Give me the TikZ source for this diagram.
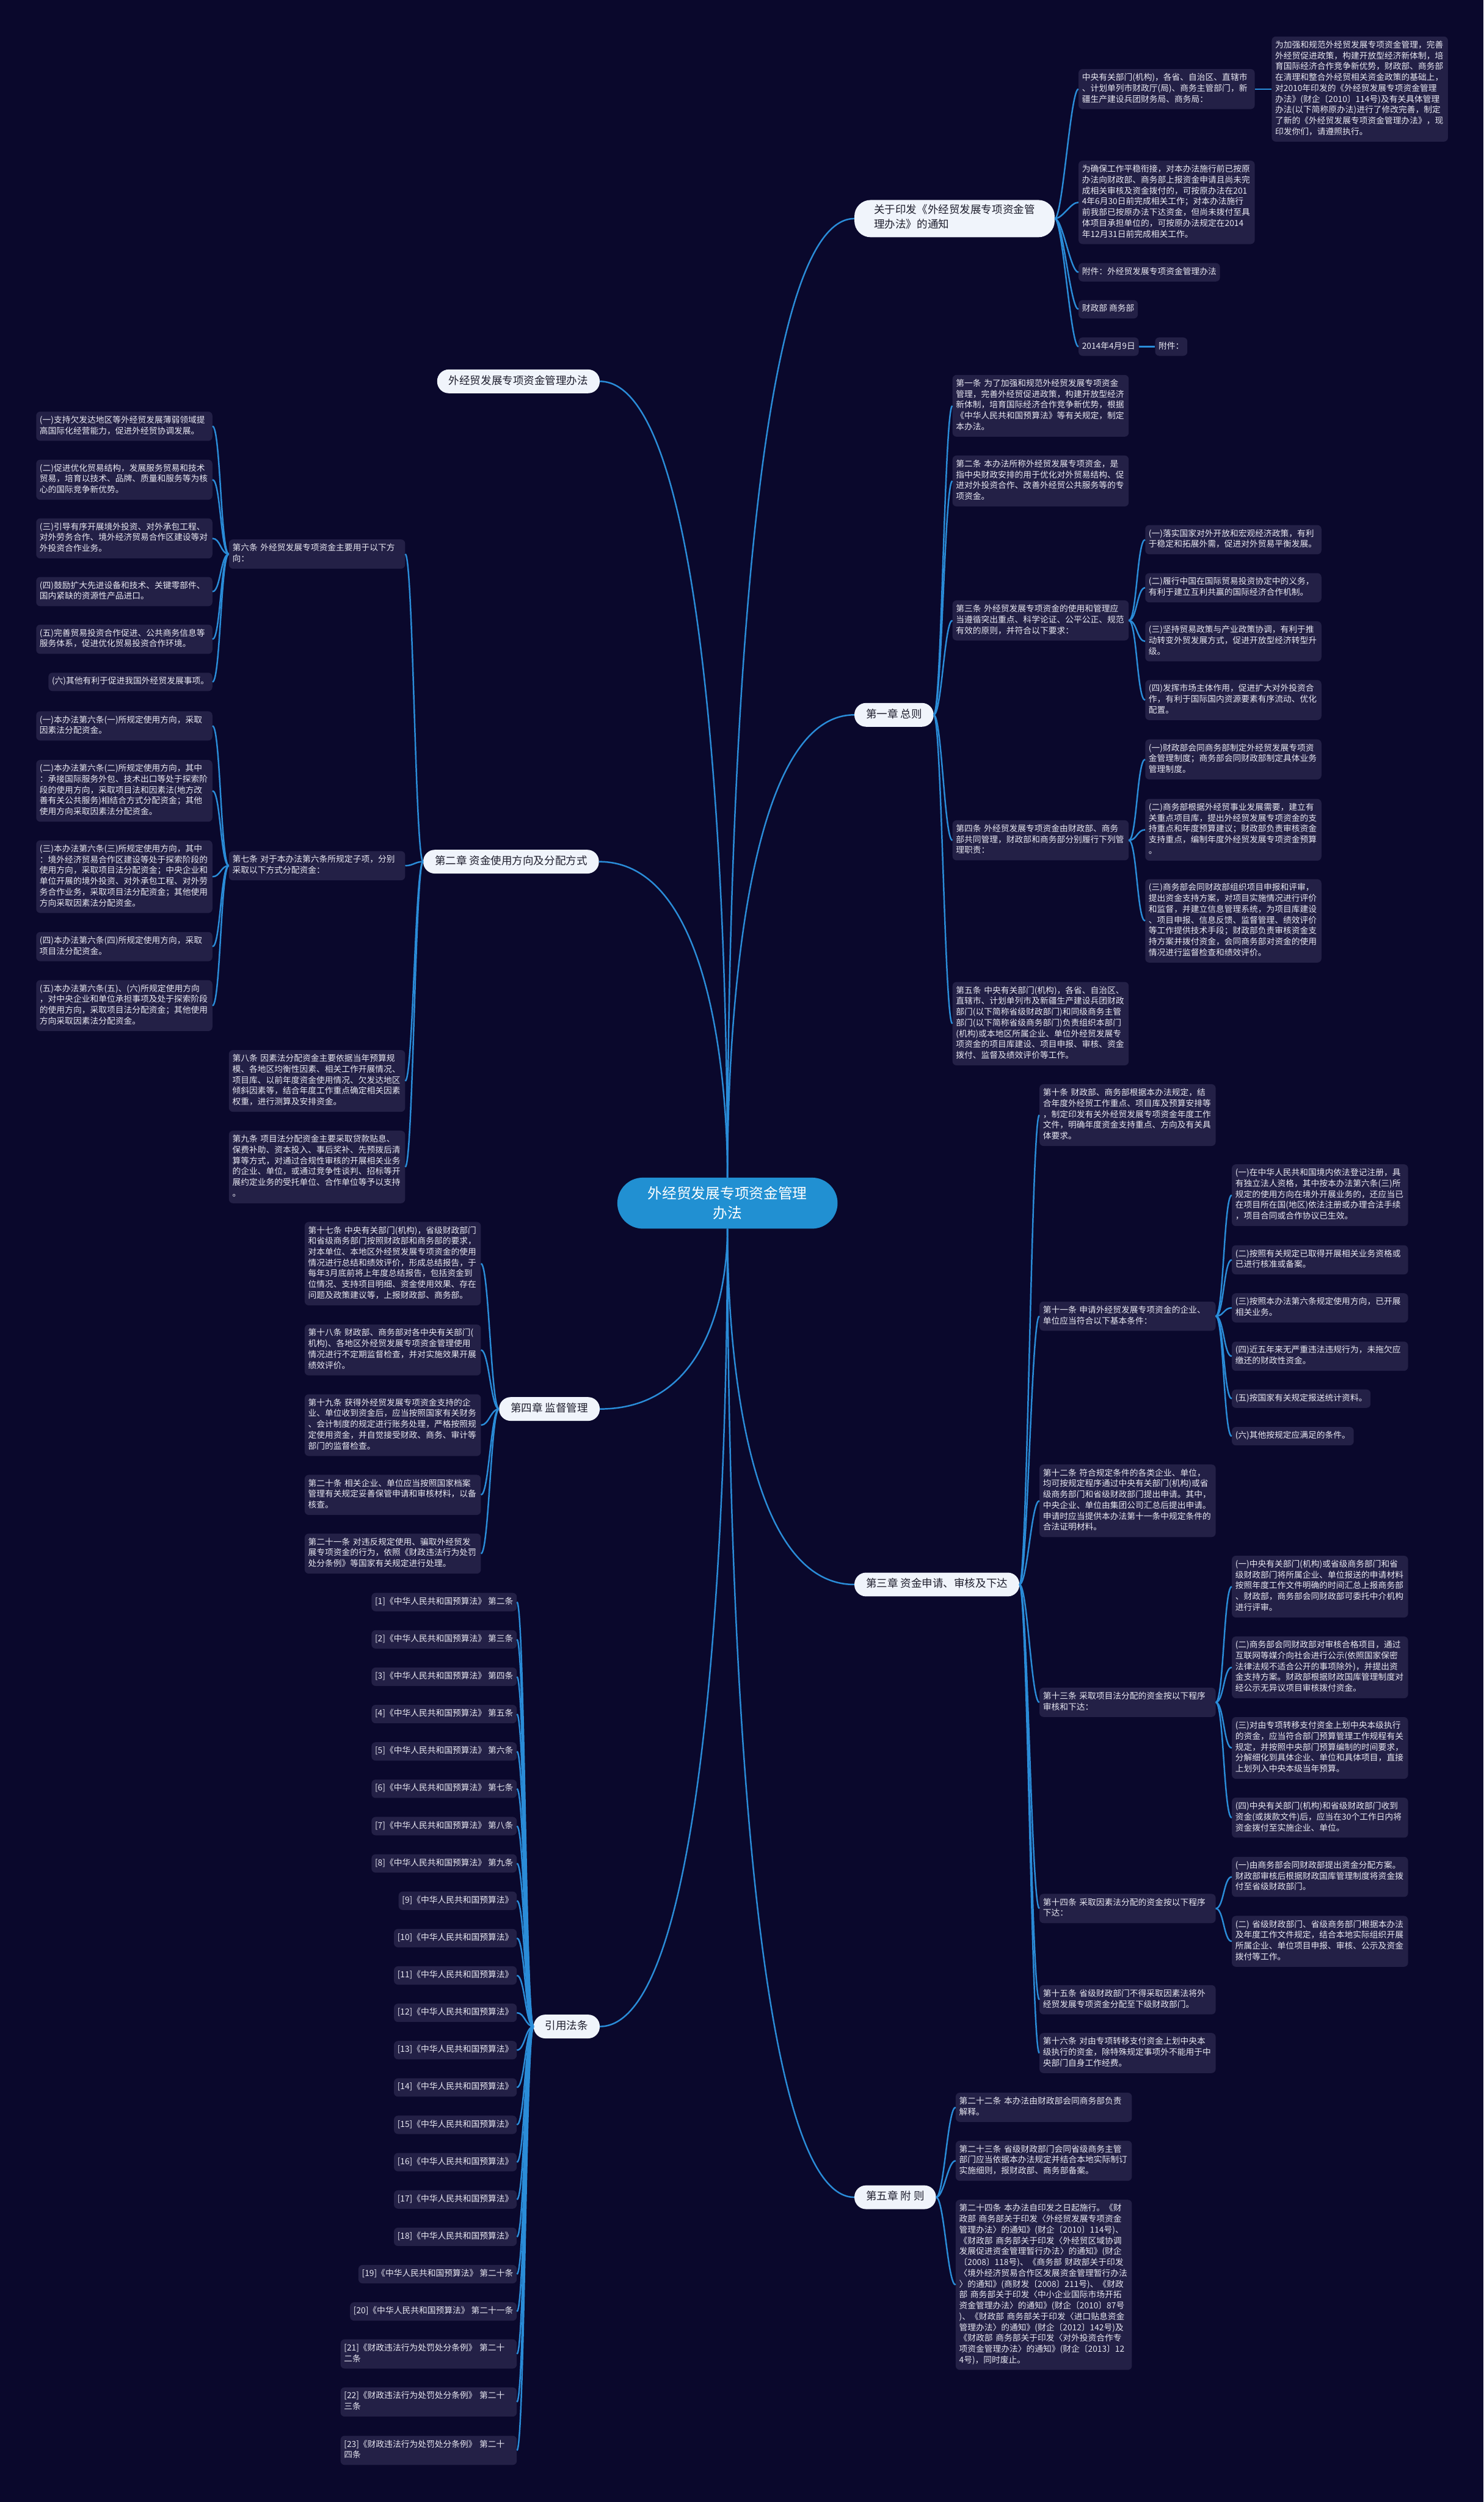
\documentclass[tikz,border=0pt]{standalone}
\usepackage{fontspec}
\usepackage{tikz}
\usetikzlibrary{positioning, calc}
\newfontfamily\cjk{Noto Sans CJK SC}
\definecolor{bgc}{RGB}{10,8,44}
\definecolor{leafbg}{RGB}{35,32,70}
\definecolor{leaftxt}{RGB}{232,232,242}
\definecolor{topicbg}{RGB}{240,244,251}
\definecolor{topictxt}{RGB}{30,30,45}
\definecolor{hubbg}{RGB}{33,144,210}
\definecolor{linkc}{RGB}{42,140,216}

\begin{document}
\begin{tikzpicture}[x=2.7527pt, y=-2.7527pt,
  leaf/.style={fill=leafbg, text=leaftxt, rounded corners=7pt, font=\cjk\fontsize{14.5}{18.7}\selectfont, inner xsep=6pt, inner ysep=6.5pt, align=left, execute at begin node=\strut, execute at end node=\strut},
  wide/.style={text width=292pt},
  topic/.style={fill=topicbg, text=topictxt, rounded corners=20pt, font=\cjk\fontsize{18.5}{25}\selectfont, inner xsep=20pt, inner ysep=8pt, align=center, execute at begin node=\strut},
  hub/.style={fill=hubbg, text=white, rounded corners=44pt, font=\cjk\fontsize{25}{34}\selectfont, minimum width=380pt, minimum height=88pt, align=center},
  link/.style={draw=linkc, line width=2.6pt},
  sr/.style={to path={.. controls ($(\tikztostart)+(5,0)$) and ($(\tikztotarget)+(-5,0)$) .. (\tikztotarget)}},
  sl/.style={to path={.. controls ($(\tikztostart)+(-5,0)$) and ($(\tikztotarget)+(5,0)$) .. (\tikztotarget)}}]

\fill[bgc] (0,0) rectangle (930,1568);
\useasboundingbox (0,0) rectangle (930,1568);

\node[hub] (hub) at (456,754) {外经贸发展专项资金管理\\办法};

\node[topic, anchor=west, align=left, inner xsep=34pt, rounded corners=28pt] (notice) at (535.5,137) {关于印发《外经贸发展专项资金管\\理办法》的通知};
\node[topic, anchor=west] (ch1) at (535.5,448) {第一章 总则};
\node[topic, anchor=west] (ch3) at (535.5,993) {第三章 资金申请、审核及下达};
\node[topic, anchor=west] (ch5) at (535.5,1377) {第五章 附 则};
\node[topic, anchor=east] (wjm) at (376,239) {外经贸发展专项资金管理办法};
\node[topic, anchor=east] (ch2) at (375.5,540) {第二章 资金使用方向及分配方式};
\node[topic, anchor=east] (ch4) at (376,883) {第四章 监督管理};
\node[topic, anchor=east] (cite) at (376,1270) {引用法条};

\node[leaf, wide, anchor=north west] (zy) at (676,43.2) {中央有关部门(机构)，各省、自治区、直辖市\\、计划单列市财政厅(局)、商务主管部门，新\\疆生产建设兵团财务局、商务局：};
\node[leaf, wide, right=29pt of zy] (intro) {为加强和规范外经贸发展专项资金管理，完善\\外经贸促进政策，构建开放型经济新体制，培\\育国际经济合作竞争新优势，财政部、商务部\\在清理和整合外经贸相关资金政策的基础上，\\对2010年印发的《外经贸发展专项资金管理\\办法》(财企〔2010〕114号)及有关具体管理\\办法(以下简称原办法)进行了修改完善，制定\\了新的《外经贸发展专项资金管理办法》，现\\印发你们，请遵照执行。};
\node[leaf, wide, anchor=north west] (qr) at (676,100.6) {为确保工作平稳衔接，对本办法施行前已按原\\办法向财政部、商务部上报资金申请且尚未完\\成相关审核及资金拨付的，可按原办法在201\\4年6月30日前完成相关工作；对本办法施行\\前我部已按原办法下达资金，但尚未拨付至具\\体项目承担单位的，可按原办法规定在2014\\年12月31日前完成相关工作。};
\node[leaf, anchor=north west] (fj) at (676,164.8) {附件：外经贸发展专项资金管理办法};
\node[leaf, anchor=north west] (cz) at (676,188) {财政部 商务部};
\node[leaf, anchor=north west] (date) at (676,211.4) {2014年4月9日};
\node[leaf, right=28pt of date] (fj2) {附件：};

\node[leaf, wide, anchor=north west] (a1) at (597,234.9) {第一条~为了加强和规范外经贸发展专项资金\\管理，完善外经贸促进政策，构建开放型经济\\新体制，培育国际经济合作竞争新优势，根据\\《中华人民共和国预算法》等有关规定，制定\\本办法。};
\node[leaf, wide, anchor=north west] (a2) at (597,285.4) {第二条~本办法所称外经贸发展专项资金，是\\指中央财政安排的用于优化对外贸易结构、促\\进对外投资合作、改善外经贸公共服务等的专\\项资金。};
\node[leaf, wide, anchor=north west] (a3) at (597,376.2) {第三条~外经贸发展专项资金的使用和管理应\\当遵循突出重点、科学论证、公平公正、规范\\有效的原则，并符合以下要求：};
\node[leaf, wide, anchor=north west] (s31) at (717.8,329) {(一)落实国家对外开放和宏观经济政策，有利\\于稳定和拓展外需，促进对外贸易平衡发展。};
\node[leaf, wide, anchor=north west] (s32) at (717.8,359.1) {(二)履行中国在国际贸易投资协定中的义务，\\有利于建立互利共赢的国际经济合作机制。};
\node[leaf, wide, anchor=north west] (s33) at (717.8,389.3) {(三)坚持贸易政策与产业政策协调，有利于推\\动转变外贸发展方式，促进开放型经济转型升\\级。};
\node[leaf, wide, anchor=north west] (s34) at (717.8,426.1) {(四)发挥市场主体作用，促进扩大对外投资合\\作，有利于国际国内资源要素有序流动、优化\\配置。};
\node[leaf, wide, anchor=north west] (a4) at (597,514) {第四条~外经贸发展专项资金由财政部、商务\\部共同管理，财政部和商务部分别履行下列管\\理职责：};
\node[leaf, wide, anchor=north west] (s41) at (717.8,463.3) {(一)财政部会同商务部制定外经贸发展专项资\\金管理制度；商务部会同财政部制定具体业务\\管理制度。};
\node[leaf, wide, anchor=north west] (s42) at (717.8,500.6) {(二)商务部根据外经贸事业发展需要，建立有\\关重点项目库，提出外经贸发展专项资金的支\\持重点和年度预算建议；财政部负责审核资金\\支持重点，编制年度外经贸发展专项资金预算\\。};
\node[leaf, wide, anchor=north west] (s43) at (717.8,550.9) {(三)商务部会同财政部组织项目申报和评审，\\提出资金支持方案，对项目实施情况进行评价\\和监督，并建立信息管理系统，为项目库建设\\、项目申报、信息反馈、监督管理、绩效评价\\等工作提供技术手段；财政部负责审核资金支\\持方案并拨付资金，会同商务部对资金的使用\\情况进行监督检查和绩效评价。};
\node[leaf, wide, anchor=north west] (a5) at (597,615.3) {第五条~中央有关部门(机构)，各省、自治区、\\直辖市、计划单列市及新疆生产建设兵团财政\\部门(以下简称省级财政部门)和同级商务主管\\部门(以下简称省级商务部门)负责组织本部门\\(机构)或本地区所属企业、单位外经贸发展专\\项资金的项目库建设、项目申报、审核、资金\\拨付、监督及绩效评价等工作。};

\node[leaf, wide, anchor=north west] (a10) at (651.5,679.4) {第十条~财政部、商务部根据本办法规定，结\\合年度外经贸工作重点、项目库及预算安排等\\，制定印发有关外经贸发展专项资金年度工作\\文件，明确年度资金支持重点、方向及有关具\\体要求。};
\node[leaf, wide, anchor=north west] (a11) at (651.5,815.6) {第十一条~申请外经贸发展专项资金的企业、\\单位应当符合以下基本条件：};
\node[leaf, wide, anchor=north west] (s111) at (772.1,729.6) {(一)在中华人民共和国境内依法登记注册，具\\有独立法人资格，其中按本办法第六条(三)所\\规定的使用方向在境外开展业务的，还应当已\\在项目所在国(地区)依法注册或办理合法手续\\，项目合同或合作协议已生效。};
\node[leaf, wide, anchor=north west] (s112) at (772.1,780.3) {(二)按照有关规定已取得开展相关业务资格或\\已进行核准或备案。};
\node[leaf, wide, anchor=north west] (s113) at (772.1,810.4) {(三)按照本办法第六条规定使用方向，已开展\\相关业务。};
\node[leaf, wide, anchor=north west] (s114) at (772.1,840.7) {(四)近五年来无严重违法违规行为，未拖欠应\\缴还的财政性资金。};
\node[leaf, anchor=north west] (s115) at (772.1,870.7) {(五)按国家有关规定报送统计资料。};
\node[leaf, anchor=north west] (s116) at (772.1,894.2) {(六)其他按规定应满足的条件。};
\node[leaf, wide, anchor=north west] (a12) at (651.5,917.7) {第十二条~符合规定条件的各类企业、单位，\\均可按规定程序通过中央有关部门(机构)或省\\级商务部门和省级财政部门提出申请。其中，\\中央企业、单位由集团公司汇总后提出申请。\\申请时应当提供本办法第十一条中规定条件的\\合法证明材料。};
\node[leaf, wide, anchor=north west] (a13) at (651.5,1057.6) {第十三条~采取项目法分配的资金按以下程序\\审核和下达：};
\node[leaf, wide, anchor=north west] (s131) at (772.1,974.9) {(一)中央有关部门(机构)或省级商务部门和省\\级财政部门将所属企业、单位报送的申请材料\\按照年度工作文件明确的时间汇总上报商务部\\、财政部，商务部会同财政部可委托中介机构\\进行评审。};
\node[leaf, wide, anchor=north west] (s132) at (772.1,1025.5) {(二)商务部会同财政部对审核合格项目，通过\\互联网等媒介向社会进行公示(依照国家保密\\法律法规不适合公开的事项除外)，并提出资\\金支持方案。财政部根据财政国库管理制度对\\经公示无异议项目审核拨付资金。};
\node[leaf, wide, anchor=north west] (s133) at (772.1,1076) {(三)对由专项转移支付资金上划中央本级执行\\的资金，应当符合部门预算管理工作规程有关\\规定，并按照中央部门预算编制的时间要求，\\分解细化到具体企业、单位和具体项目，直接\\上划列入中央本级当年预算。};
\node[leaf, wide, anchor=north west] (s134) at (772.1,1126.5) {(四)中央有关部门(机构)和省级财政部门收到\\资金(或拨款文件)后，应当在30个工作日内将\\资金拨付至实施企业、单位。};
\node[leaf, wide, anchor=north west] (a14) at (651.5,1186.8) {第十四条~采取因素法分配的资金按以下程序\\下达：};
\node[leaf, wide, anchor=north west] (s141) at (772.1,1163.6) {(一)由商务部会同财政部提出资金分配方案。\\财政部审核后根据财政国库管理制度将资金拨\\付至省级财政部门。};
\node[leaf, wide, anchor=north west] (s142) at (772.1,1200.6) {(二)~省级财政部门、省级商务部门根据本办法\\及年度工作文件规定，结合本地实际组织开展\\所属企业、单位项目申报、审核、公示及资金\\拨付等工作。};
\node[leaf, wide, anchor=north west] (a15) at (651.5,1244) {第十五条~省级财政部门不得采取因素法将外\\经贸发展专项资金分配至下级财政部门。};
\node[leaf, wide, anchor=north west] (a16) at (651.5,1274) {第十六条~对由专项转移支付资金上划中央本\\级执行的资金，除特殊规定事项外不能用于中\\央部门自身工作经费。};

\node[leaf, wide, anchor=north west] (a22) at (599,1311.4) {第二十二条~本办法由财政部会同商务部负责\\解释。};
\node[leaf, wide, anchor=north west] (a23) at (599,1341.5) {第二十三条~省级财政部门会同省级商务主管\\部门应当依据本办法规定并结合本地实际制订\\实施细则，报财政部、商务部备案。};
\node[leaf, wide, anchor=north west] (a24) at (599,1378.5) {第二十四条~本办法自印发之日起施行。《财\\政部~商务部关于印发〈外经贸发展专项资金\\管理办法〉的通知》(财企〔2010〕114号)、\\《财政部~商务部关于印发〈外经贸区域协调\\发展促进资金管理暂行办法〉的通知》(财企\\〔2008〕118号)、《商务部~财政部关于印发\\〈境外经济贸易合作区发展资金管理暂行办法\\〉的通知》(商财发〔2008〕211号)、《财政\\部~商务部关于印发〈中小企业国际市场开拓\\资金管理办法〉的通知》(财企〔2010〕87号\\)、《财政部~商务部关于印发〈进口贴息资金\\管理办法〉的通知》(财企〔2012〕142号)及\\《财政部~商务部关于印发〈对外投资合作专\\项资金管理办法〉的通知》(财企〔2013〕12\\4号)，同时废止。};

\node[leaf, wide, anchor=north east] (a6) at (254,338) {第六条~外经贸发展专项资金主要用于以下方\\向：};
\node[leaf, wide, anchor=north east] (s61) at (133.2,257.9) {(一)支持欠发达地区等外经贸发展薄弱领域提\\高国际化经营能力，促进外经贸协调发展。};
\node[leaf, wide, anchor=north east] (s62) at (133.2,288) {(二)促进优化贸易结构，发展服务贸易和技术\\贸易，培育以技术、品牌、质量和服务等为核\\心的国际竞争新优势。};
\node[leaf, wide, anchor=north east] (s63) at (133.2,324.8) {(三)引导有序开展境外投资、对外承包工程、\\对外劳务合作、境外经济贸易合作区建设等对\\外投资合作业务。};
\node[leaf, wide, anchor=north east] (s64) at (133.2,361.5) {(四)鼓励扩大先进设备和技术、关键零部件、\\国内紧缺的资源性产品进口。};
\node[leaf, wide, anchor=north east] (s65) at (133.2,391.4) {(五)完善贸易投资合作促进、公共商务信息等\\服务体系，促进优化贸易投资合作环境。};
\node[leaf, anchor=north east] (s66) at (133.2,421.5) {(六)其他有利于促进我国外经贸发展事项。};
\node[leaf, wide, anchor=north east] (a7) at (254,533.3) {第七条~对于本办法第六条所规定子项，分别\\采取以下方式分配资金：};
\node[leaf, wide, anchor=north east] (s71) at (133.2,445.7) {(一)本办法第六条(一)所规定使用方向，采取\\因素法分配资金。};
\node[leaf, wide, anchor=north east] (s72) at (133.2,476.2) {(二)本办法第六条(二)所规定使用方向，其中\\：承接国际服务外包、技术出口等处于探索阶\\段的使用方向，采取项目法和因素法(地方改\\善有关公共服务)相结合方式分配资金；其他\\使用方向采取因素法分配资金。};
\node[leaf, wide, anchor=north east] (s73) at (133.2,526.6) {(三)本办法第六条(三)所规定使用方向，其中\\：境外经济贸易合作区建设等处于探索阶段的\\使用方向，采取项目法分配资金；中央企业和\\单位开展的境外投资、对外承包工程、对外劳\\务合作业务，采取项目法分配资金；其他使用\\方向采取因素法分配资金。};
\node[leaf, wide, anchor=north east] (s74) at (133.2,584) {(四)本办法第六条(四)所规定使用方向，采取\\项目法分配资金。};
\node[leaf, wide, anchor=north east] (s75) at (133.2,614.2) {(五)本办法第六条(五)、(六)所规定使用方向\\，对中央企业和单位承担事项及处于探索阶段\\的使用方向，采取项目法分配资金；其他使用\\方向采取因素法分配资金。};
\node[leaf, wide, anchor=north east] (a8) at (254,658) {第八条~因素法分配资金主要依据当年预算规\\模、各地区均衡性因素、相关工作开展情况、\\项目库、以前年度资金使用情况、欠发达地区\\倾斜因素等，结合年度工作重点确定相关因素\\权重，进行测算及安排资金。};
\node[leaf, wide, anchor=north east] (a9) at (254,708.5) {第九条~项目法分配资金主要采取贷款贴息、\\保费补助、资本投入、事后奖补、先预拨后清\\算等方式，对通过合规性审核的开展相关业务\\的企业、单位，或通过竞争性谈判、招标等开\\展约定业务的受托单位、合作单位等予以支持\\。};

\node[leaf, wide, anchor=north east] (a17) at (301.5,765.7) {第十七条~中央有关部门(机构)，省级财政部门\\和省级商务部门按照财政部和商务部的要求，\\对本单位、本地区外经贸发展专项资金的使用\\情况进行总结和绩效评价，形成总结报告，于\\每年3月底前将上年度总结报告，包括资金到\\位情况、支持项目明细、资金使用效果、存在\\问题及政策建议等，上报财政部、商务部。};
\node[leaf, wide, anchor=north east] (a18) at (301.5,830) {第十八条~财政部、商务部对各中央有关部门(\\机构)、各地区外经贸发展专项资金管理使用\\情况进行不定期监督检查，并对实施效果开展\\绩效评价。};
\node[leaf, wide, anchor=north east] (a19) at (301.5,873.7) {第十九条~获得外经贸发展专项资金支持的企\\业、单位收到资金后，应当按照国家有关财务\\、会计制度的规定进行账务处理，严格按照规\\定使用资金，并自觉接受财政、商务、审计等\\部门的监督检查。};
\node[leaf, wide, anchor=north east] (a20) at (301.5,924.2) {第二十条~相关企业、单位应当按照国家档案\\管理有关规定妥善保管申请和审核材料，以备\\核查。};
\node[leaf, wide, anchor=north east] (a21) at (301.5,961) {第二十一条~对违反规定使用、骗取外经贸发\\展专项资金的行为，依照《财政违法行为处罚\\处分条例》等国家有关规定进行处理。};

\node[leaf, anchor=east] (c1) at (324,1004) {[1]《中华人民共和国预算法》 第二条};
\node[leaf, anchor=east] (c2) at (324,1027.4) {[2]《中华人民共和国预算法》 第三条};
\node[leaf, anchor=east] (c3) at (324,1050.8) {[3]《中华人民共和国预算法》 第四条};
\node[leaf, anchor=east] (c4) at (324,1074.2) {[4]《中华人民共和国预算法》 第五条};
\node[leaf, anchor=east] (c5) at (324,1097.6) {[5]《中华人民共和国预算法》 第六条};
\node[leaf, anchor=east] (c6) at (324,1121) {[6]《中华人民共和国预算法》 第七条};
\node[leaf, anchor=east] (c7) at (324,1144.4) {[7]《中华人民共和国预算法》 第八条};
\node[leaf, anchor=east] (c8) at (324,1167.8) {[8]《中华人民共和国预算法》 第九条};
\node[leaf, anchor=east] (c9) at (324,1191.2) {[9]《中华人民共和国预算法》};
\node[leaf, anchor=east] (c10) at (324,1214.6) {[10]《中华人民共和国预算法》};
\node[leaf, anchor=east] (c11) at (324,1238) {[11]《中华人民共和国预算法》};
\node[leaf, anchor=east] (c12) at (324,1261.4) {[12]《中华人民共和国预算法》};
\node[leaf, anchor=east] (c13) at (324,1284.8) {[13]《中华人民共和国预算法》};
\node[leaf, anchor=east] (c14) at (324,1308.2) {[14]《中华人民共和国预算法》};
\node[leaf, anchor=east] (c15) at (324,1331.6) {[15]《中华人民共和国预算法》};
\node[leaf, anchor=east] (c16) at (324,1355) {[16]《中华人民共和国预算法》};
\node[leaf, anchor=east] (c17) at (324,1378.4) {[17]《中华人民共和国预算法》};
\node[leaf, anchor=east] (c18) at (324,1401.8) {[18]《中华人民共和国预算法》};
\node[leaf, anchor=east] (c19) at (324,1425.2) {[19]《中华人民共和国预算法》 第二十条};
\node[leaf, anchor=east] (c20) at (324,1448.6) {[20]《中华人民共和国预算法》 第二十一条};
\node[leaf, wide, anchor=east] (c21) at (324,1475.2) {[21]《财政违法行为处罚处分条例》~第二十\\二条};
\node[leaf, wide, anchor=east] (c22) at (324,1505.3) {[22]《财政违法行为处罚处分条例》~第二十\\三条};
\node[leaf, wide, anchor=east] (c23) at (324,1535.6) {[23]《财政违法行为处罚处分条例》~第二十\\四条};

\draw[link] (hub.north) .. controls ($(hub.north)+(0,-180)$) and ($(notice.west)+(-70,0)$) .. (notice.west);
\draw[link] (hub.north) .. controls ($(hub.north)+(0,-87)$) and ($(ch1.west)+(-70,0)$) .. (ch1.west);
\draw[link] (hub.south) .. controls ($(hub.south)+(0,67)$) and ($(ch3.west)+(-70,0)$) .. (ch3.west);
\draw[link] (hub.south) .. controls ($(hub.south)+(0,182)$) and ($(ch5.west)+(-70,0)$) .. (ch5.west);
\draw[link] (hub.north) .. controls ($(hub.north)+(0,-150)$) and ($(wjm.east)+(70,0)$) .. (wjm.east);
\draw[link] (hub.north) .. controls ($(hub.north)+(0,-60)$) and ($(ch2.east)+(70,0)$) .. (ch2.east);
\draw[link] (hub.south) .. controls ($(hub.south)+(0,34)$) and ($(ch4.east)+(70,0)$) .. (ch4.east);
\draw[link] (hub.south) .. controls ($(hub.south)+(0,150)$) and ($(cite.east)+(70,0)$) .. (cite.east);

\draw[link] (notice.east) to[sr] (zy.west);
\draw[link] (notice.east) to[sr] (qr.west);
\draw[link] (notice.east) to[sr] (fj.west);
\draw[link] (notice.east) to[sr] (cz.west);
\draw[link] (notice.east) to[sr] (date.west);
\draw[link] (zy) -- (intro);
\draw[link] (date) -- (fj2);

\draw[link] (ch1.east) to[sr] (a1.west);
\draw[link] (ch1.east) to[sr] (a2.west);
\draw[link] (ch1.east) to[sr] (a3.west);
\draw[link] (ch1.east) to[sr] (a4.west);
\draw[link] (ch1.east) to[sr] (a5.west);
\draw[link] (a3.east) to[sr] (s31.west);
\draw[link] (a3.east) to[sr] (s32.west);
\draw[link] (a3.east) to[sr] (s33.west);
\draw[link] (a3.east) to[sr] (s34.west);
\draw[link] (a4.east) to[sr] (s41.west);
\draw[link] (a4.east) to[sr] (s42.west);
\draw[link] (a4.east) to[sr] (s43.west);

\draw[link] (ch3.east) to[sr] (a10.west);
\draw[link] (ch3.east) to[sr] (a11.west);
\draw[link] (ch3.east) to[sr] (a12.west);
\draw[link] (ch3.east) to[sr] (a13.west);
\draw[link] (ch3.east) to[sr] (a14.west);
\draw[link] (ch3.east) to[sr] (a15.west);
\draw[link] (ch3.east) to[sr] (a16.west);
\draw[link] (a11.east) to[sr] (s111.west);
\draw[link] (a11.east) to[sr] (s112.west);
\draw[link] (a11.east) to[sr] (s113.west);
\draw[link] (a11.east) to[sr] (s114.west);
\draw[link] (a11.east) to[sr] (s115.west);
\draw[link] (a11.east) to[sr] (s116.west);
\draw[link] (a13.east) to[sr] (s131.west);
\draw[link] (a13.east) to[sr] (s132.west);
\draw[link] (a13.east) to[sr] (s133.west);
\draw[link] (a13.east) to[sr] (s134.west);
\draw[link] (a14.east) to[sr] (s141.west);
\draw[link] (a14.east) to[sr] (s142.west);

\draw[link] (ch5.east) to[sr] (a22.west);
\draw[link] (ch5.east) to[sr] (a23.west);
\draw[link] (ch5.east) to[sr] (a24.west);

\draw[link] (ch2.west) to[sl] (a6.east);
\draw[link] (ch2.west) to[sl] (a7.east);
\draw[link] (ch2.west) to[sl] (a8.east);
\draw[link] (ch2.west) to[sl] (a9.east);
\draw[link] (a6.west) to[sl] (s61.east);
\draw[link] (a6.west) to[sl] (s62.east);
\draw[link] (a6.west) to[sl] (s63.east);
\draw[link] (a6.west) to[sl] (s64.east);
\draw[link] (a6.west) to[sl] (s65.east);
\draw[link] (a6.west) to[sl] (s66.east);
\draw[link] (a7.west) to[sl] (s71.east);
\draw[link] (a7.west) to[sl] (s72.east);
\draw[link] (a7.west) to[sl] (s73.east);
\draw[link] (a7.west) to[sl] (s74.east);
\draw[link] (a7.west) to[sl] (s75.east);

\draw[link] (ch4.west) to[sl] (a17.east);
\draw[link] (ch4.west) to[sl] (a18.east);
\draw[link] (ch4.west) to[sl] (a19.east);
\draw[link] (ch4.west) to[sl] (a20.east);
\draw[link] (ch4.west) to[sl] (a21.east);

\draw[link] (cite.west) to[sl] (c1.east);
\draw[link] (cite.west) to[sl] (c2.east);
\draw[link] (cite.west) to[sl] (c3.east);
\draw[link] (cite.west) to[sl] (c4.east);
\draw[link] (cite.west) to[sl] (c5.east);
\draw[link] (cite.west) to[sl] (c6.east);
\draw[link] (cite.west) to[sl] (c7.east);
\draw[link] (cite.west) to[sl] (c8.east);
\draw[link] (cite.west) to[sl] (c9.east);
\draw[link] (cite.west) to[sl] (c10.east);
\draw[link] (cite.west) to[sl] (c11.east);
\draw[link] (cite.west) to[sl] (c12.east);
\draw[link] (cite.west) to[sl] (c13.east);
\draw[link] (cite.west) to[sl] (c14.east);
\draw[link] (cite.west) to[sl] (c15.east);
\draw[link] (cite.west) to[sl] (c16.east);
\draw[link] (cite.west) to[sl] (c17.east);
\draw[link] (cite.west) to[sl] (c18.east);
\draw[link] (cite.west) to[sl] (c19.east);
\draw[link] (cite.west) to[sl] (c20.east);
\draw[link] (cite.west) to[sl] (c21.east);
\draw[link] (cite.west) to[sl] (c22.east);
\draw[link] (cite.west) to[sl] (c23.east);
\end{tikzpicture}
\end{document}
